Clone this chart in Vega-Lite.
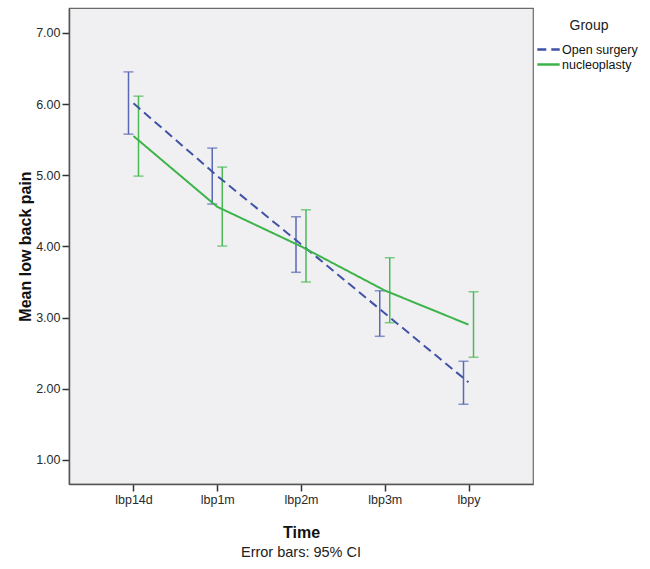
{
  "$schema": "https://vega.github.io/schema/vega-lite/v6.json",
  "width": 464,
  "height": 476,
  "autosize": "none",
  "padding": {"left": 69, "top": 8, "right": 117, "bottom": 85},
  "background": "#ffffff",
  "data": {"values": [
    {"time": "lbp14d", "group": "Open surgery", "mean": 6.01, "lo": 5.577, "hi": 6.452},
    {"time": "lbp1m", "group": "Open surgery", "mean": 4.99, "lo": 4.594, "hi": 5.381},
    {"time": "lbp2m", "group": "Open surgery", "mean": 4.03, "lo": 3.635, "hi": 4.416},
    {"time": "lbp3m", "group": "Open surgery", "mean": 3.06, "lo": 2.736, "hi": 3.376},
    {"time": "lbpy", "group": "Open surgery", "mean": 2.09, "lo": 1.781, "hi": 2.385},
    {"time": "lbp14d", "group": "nucleoplasty", "mean": 5.55, "lo": 4.987, "hi": 6.111},
    {"time": "lbp1m", "group": "nucleoplasty", "mean": 4.556, "lo": 4.004, "hi": 5.114},
    {"time": "lbp2m", "group": "nucleoplasty", "mean": 4.0, "lo": 3.499, "hi": 4.514},
    {"time": "lbp3m", "group": "nucleoplasty", "mean": 3.38, "lo": 2.927, "hi": 3.84},
    {"time": "lbpy", "group": "nucleoplasty", "mean": 2.9, "lo": 2.441, "hi": 3.362}
  ]},
  "title": {
    "text": "Error bars: 95% CI",
    "orient": "bottom",
    "anchor": "middle",
    "frame": "group",
    "font": "Liberation Sans",
    "fontSize": 14.5,
    "fontWeight": "normal",
    "color": "#222222",
    "offset": 5
  },
  "encoding": {
    "x": {
      "field": "time",
      "type": "ordinal",
      "sort": ["lbp14d", "lbp1m", "lbp2m", "lbp3m", "lbpy"],
      "scale": {"type": "point", "padding": 0.77},
      "axis": {
        "title": "Time",
        "labelAngle": 0,
        "tickSize": 7,
        "labelPadding": 2,
        "titlePadding": 19
      }
    }
  },
  "layer": [
    {
      "mark": {"type": "rule", "strokeWidth": 1.5, "xOffset": -5},
      "transform": [{"filter": "datum.group === 'Open surgery'"}],
      "encoding": {
        "y": {"field": "lo", "type": "quantitative"},
        "y2": {"field": "hi"},
        "color": {"value": "#5868b4"}
      }
    },
    {
      "mark": {"type": "tick", "thickness": 1.5, "size": 10, "xOffset": -5, "color": "#5868b4"},
      "transform": [{"filter": "datum.group === 'Open surgery'"}],
      "encoding": {"y": {"field": "lo", "type": "quantitative"}}
    },
    {
      "mark": {"type": "tick", "thickness": 1.5, "size": 10, "xOffset": -5, "color": "#5868b4"},
      "transform": [{"filter": "datum.group === 'Open surgery'"}],
      "encoding": {"y": {"field": "hi", "type": "quantitative"}}
    },
    {
      "mark": {"type": "rule", "strokeWidth": 1.5, "xOffset": 5},
      "transform": [{"filter": "datum.group === 'nucleoplasty'"}],
      "encoding": {
        "y": {"field": "lo", "type": "quantitative"},
        "y2": {"field": "hi"},
        "color": {"value": "#4cb957"}
      }
    },
    {
      "mark": {"type": "tick", "thickness": 1.5, "size": 10, "xOffset": 5, "color": "#4cb957"},
      "transform": [{"filter": "datum.group === 'nucleoplasty'"}],
      "encoding": {"y": {"field": "lo", "type": "quantitative"}}
    },
    {
      "mark": {"type": "tick", "thickness": 1.5, "size": 10, "xOffset": 5, "color": "#4cb957"},
      "transform": [{"filter": "datum.group === 'nucleoplasty'"}],
      "encoding": {"y": {"field": "hi", "type": "quantitative"}}
    },
    {
      "mark": {"type": "line", "strokeWidth": 2},
      "encoding": {
        "y": {
          "field": "mean",
          "type": "quantitative",
          "scale": {"domain": [0.66, 7.35], "nice": false, "zero": false},
          "axis": {
            "title": "Mean low back pain",
            "values": [1, 2, 3, 4, 5, 6, 7],
            "format": ".2f",
            "tickSize": 7,
            "labelPadding": 2,
            "titlePadding": 2,
            "grid": false
          }
        },
        "color": {
          "field": "group",
          "type": "nominal",
          "scale": {"domain": ["Open surgery", "nucleoplasty"], "range": ["#3f52a6", "#3cb44a"]},
          "legend": {"title": "Group"}
        },
        "strokeDash": {
          "field": "group",
          "type": "nominal",
          "scale": {"domain": ["Open surgery", "nucleoplasty"], "range": [[9, 5], [1, 0]]},
          "legend": {"title": "Group"}
        }
      }
    }
  ],
  "config": {
    "font": "Liberation Sans",
    "view": {"fill": "#f0f0f2", "stroke": "#6a6a6a", "strokeWidth": 1.2},
    "axis": {
      "labelFont": "Liberation Sans",
      "labelFontSize": 12.5,
      "labelColor": "#2a2a2a",
      "titleFont": "Liberation Sans",
      "titleFontSize": 16,
      "titleFontWeight": "bold",
      "titleColor": "#111111",
      "domainColor": "#555555",
      "domainWidth": 1.5,
      "tickColor": "#333333",
      "tickWidth": 1.5,
      "grid": false
    },
    "legend": {
      "orient": "none",
      "legendX": 471,
      "legendY": 11,
      "padding": 0,
      "titleFont": "Liberation Sans",
      "titleFontSize": 14,
      "titleFontWeight": "normal",
      "titleColor": "#222222",
      "titleAnchor": "middle",
      "titlePadding": 8,
      "labelFont": "Liberation Sans",
      "labelFontSize": 12.5,
      "labelColor": "#111111",
      "labelOffset": 5,
      "symbolType": "M-1.6,0H1.6",
      "symbolSize": 196,
      "symbolStrokeWidth": 2.5,
      "rowPadding": 0
    }
  }
}
